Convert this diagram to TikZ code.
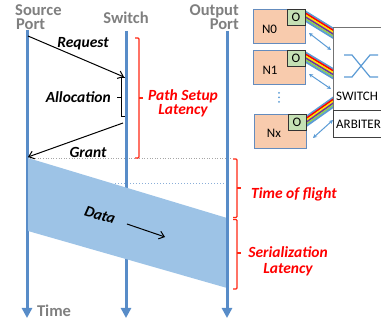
\documentclass[tikz,border=0pt]{standalone}
\usepackage{fontspec}
\setmainfont{Carlito}
\usetikzlibrary{arrows.meta}
\definecolor{lane}{RGB}{88,140,200}
\definecolor{datafill}{RGB}{157,195,230}
\definecolor{labgray}{RGB}{127,127,127}
\definecolor{bred}{RGB}{255,0,0}
\definecolor{bracered}{RGB}{255,40,20}
\definecolor{bblue}{RGB}{91,155,213}
\definecolor{byellow}{RGB}{255,230,0}
\definecolor{bpurple}{RGB}{112,48,160}
\definecolor{bgreen}{RGB}{146,208,80}
\definecolor{nfill}{RGB}{248,203,173}
\definecolor{nborder}{RGB}{100,140,190}
\definecolor{ofill}{RGB}{197,224,180}
\begin{document}
\begin{tikzpicture}[x=1pt,y=-1pt,
  lanestyle/.style={draw=lane,line width=3pt,-{Triangle[length=10pt,width=10pt]}},
  graylab/.style={text=labgray,font=\fontsize{16.5}{18}\selectfont\bfseries,inner sep=0pt,text height=11pt,text depth=0pt},
  blacklab/.style={text=black,font=\fontsize{15.5}{17}\selectfont\bfseries\itshape,inner sep=0pt},
  redlab/.style={text=bred,font=\fontsize{15.5}{17}\selectfont\bfseries\itshape,inner sep=0pt,text height=10.5pt,text depth=0pt},
  redbrace/.style={draw=bracered,line width=1.2pt,rounded corners=1pt},
  msgarrow/.style={draw=black,line width=1pt,-{Straight Barb[length=5pt,width=8pt]}},
  nbox/.style={draw=nborder,fill=nfill,line width=0.8pt,minimum width=52pt,minimum height=34pt,inner sep=0pt},
  obox/.style={draw=black!80,fill=ofill,line width=0.8pt,minimum width=18pt,minimum height=16pt,inner sep=0pt,font=\fontsize{13}{14}\selectfont},
  ntext/.style={font=\fontsize{13}{14}\selectfont,inner sep=0pt},
  swbox/.style={draw=black!55,fill=white,line width=0.8pt,inner sep=0pt},
  dblarrow/.style={draw=bblue,line width=1pt,{Stealth[length=4pt,width=4pt]}-{Stealth[length=4pt,width=4pt]}}
]
\path[use as bounding box] (0,0) rectangle (381,320);
\clip (0,0) rectangle (381,320);

% header labels
\node[graylab,anchor=base west] (srcA) at (15,16) {Source};
\node[graylab,anchor=base west] (srcB) at (16,30) {Port};
\node[graylab,anchor=base] (swlab) at (126,23.3) {Switch};
\node[graylab,anchor=base east] (outA) at (239,16) {Output};
\node[graylab,anchor=base east] (outB) at (239,30) {Port};

% dotted guide lines
\coordinate (g1a) at (30,158);
\coordinate (g1b) at (232,158);
\coordinate (g2a) at (115,184);
\coordinate (g2b) at (226,184);
\draw[black!35,dotted,line width=0.6pt] (g1a) -- (g1b);
\draw[lane!70,dotted,line width=1pt] (g2a) -- (g2b);

% lanes
\coordinate (srcT) at (27,30);
\coordinate (srcE) at (27,318);
\coordinate (swT) at (126,31);
\coordinate (swE) at (126,318);
\coordinate (outT) at (227,31);
\coordinate (outE) at (227,318);
\draw[lanestyle] (srcT) -- (srcE);
\draw[lanestyle] (swT) -- (swE);

% data block
\coordinate (d1) at (28,158);
\coordinate (d2) at (227,218);
\coordinate (d3) at (227,288);
\coordinate (d4) at (28,231);
\fill[datafill] (d1) -- (d2) -- (d3) -- (d4) -- cycle;
\draw[lanestyle] (outT) -- (outE);

% messages
\coordinate (reqS) at (28,36);
\coordinate (reqE) at (124,77);
\coordinate (grS) at (123,123);
\coordinate (grE) at (28,157);
\draw[msgarrow] (reqS) -- (reqE);
\draw[msgarrow] (grS) -- (grE);
\node[blacklab,anchor=base] (req) at (83,48) {Request};
\node[blacklab,anchor=base] (gr) at (88,157.5) {Grant};

% allocation brace
\draw[black,line width=1pt] (125,78) -- (121,78) -- (121,117) -- (125,117);
\draw[black,line width=1pt] (121,98) -- (117,98);
\node[blacklab,anchor=base east] (alloc) at (111,103) {Allocation};

% red braces
\draw[redbrace] (135,38) -- (139,38) -- (139,158) -- (135,158);
\draw[redbrace] (139,98) -- (143,98);
\node[redlab,anchor=base] (psA) at (183,100.7) {Path Setup};
\node[redlab,anchor=base] (psB) at (183,114.5) {Latency};

\draw[redbrace] (233,159) -- (237,159) -- (237,217.5) -- (233,217.5);
\draw[redbrace] (237,188) -- (241,188);
\node[redlab,anchor=base] (tof) at (294,198.3) {Time of flight};

\draw[redbrace] (233,219.5) -- (237,219.5) -- (237,289) -- (233,289);
\draw[redbrace] (237,253) -- (241,253);
\node[redlab,anchor=base] (serA) at (288,257.3) {Serialization};
\node[redlab,anchor=base] (serB) at (288,273.3) {Latency};

% data label and arrow
\node[blacklab,rotate=-17] (data) at (100,215) {Data};
\coordinate (daS) at (127,224);
\coordinate (daE) at (165,237);
\draw[msgarrow] (daS) -- (daE);

% time label
\node[graylab,anchor=base] (time) at (54,316.7) {Time};

% ---------- right diagram ----------
% rainbow bundles
\foreach \c [count=\i from 0] in {bblue,bred,byellow,bpurple,bgreen,bblue} {
  \draw[\c,line width=1.8pt] (304,{10.5+1.9*\i}) -- (334,{29+1.9*\i});
  \draw[\c,line width=1.8pt] (304,{51.5+1.9*\i}) -- (334,{69.5+1.9*\i});
  \draw[\c,line width=1.8pt] (305,{117.5+1.9*\i}) -- (334,{97+1.9*\i});
}

% switch and arbiter
\node[swbox,anchor=north west,minimum width=70pt,minimum height=83pt] (sw) at (333,27) {};
\node[swbox,draw=black!75,anchor=north west,minimum width=70pt,minimum height=27pt] (arb) at (333,110) {};
\node[ntext,anchor=base west] (swt) at (336,100.5) {SWITCH};
\node[ntext,anchor=base west] (arbt) at (336,129) {ARBITER};
\draw[bblue,line width=1.2pt] (344,55) -- (352,55) -- (370,77) -- (378,77);
\draw[bblue,line width=1.2pt] (344,77) -- (352,77) -- (370,55) -- (378,55);

% N boxes
\node[nbox] (n0) at (279,26) {};
\node[obox] (o0) at (296,17) {O};
\node[ntext] (n0t) at (269.5,29) {N0};
\node[nbox] (n1) at (279,67) {};
\node[obox] (o1) at (296,58) {O};
\node[ntext] (n1t) at (270,70) {N1};
\node[nbox] (nx) at (280.5,131.5) {};
\node[obox] (ox) at (297,122) {O};
\node[ntext] (nxt) at (274,133) {Nx};

% dots
\fill[bblue] (279,93) circle (1pt);
\fill[bblue] (279,97.5) circle (1pt);
\fill[bblue] (279,102) circle (1pt);

% double arrows
\coordinate (a0s) at (309,33);
\coordinate (a0e) at (331,50);
\coordinate (a1s) at (309,74);
\coordinate (a1e) at (331,89);
\coordinate (axs) at (313,138);
\coordinate (axe) at (333,120);
\draw[dblarrow] (a0s) -- (a0e);
\draw[dblarrow] (a1s) -- (a1e);
\draw[dblarrow] (axs) -- (axe);
\end{tikzpicture}
\end{document}
